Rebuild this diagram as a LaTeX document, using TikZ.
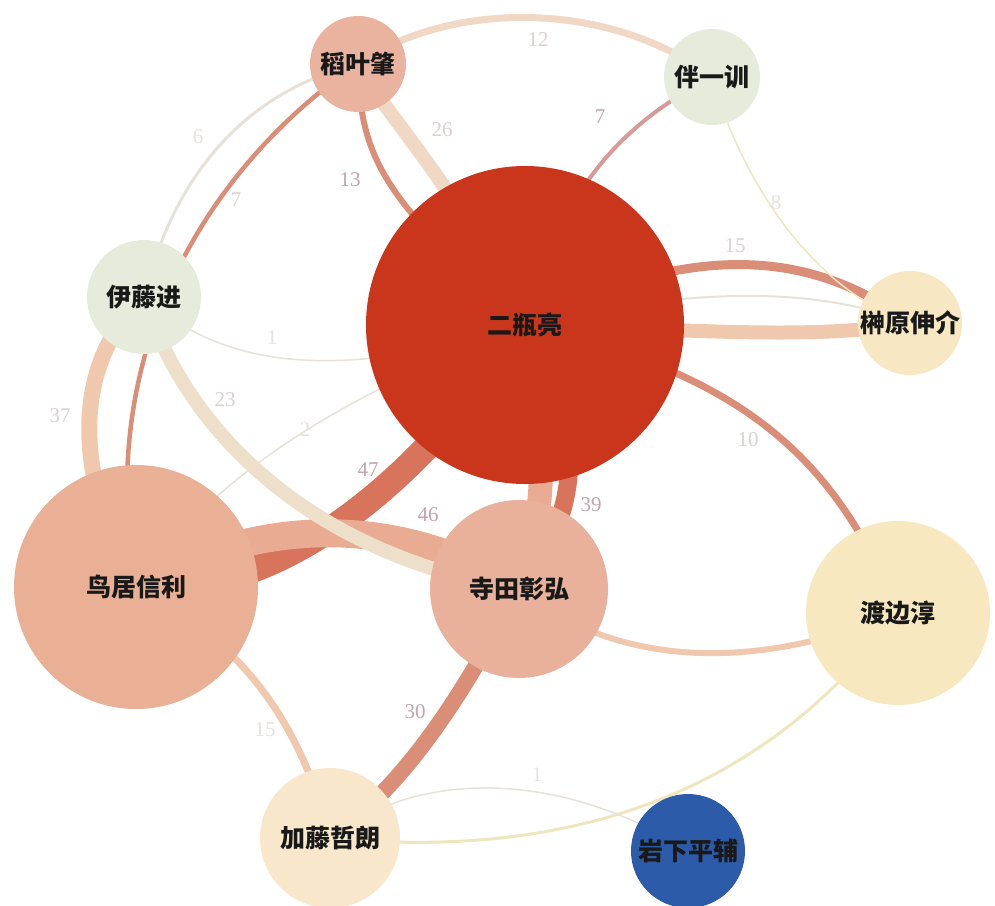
\documentclass[tikz,border=0pt]{standalone}
\usepackage{fontspec}
\setmainfont{Liberation Serif}
\newfontfamily\cjk{Noto Sans CJK SC}
\usetikzlibrary{backgrounds}
\definecolor{cIna}{HTML}{E9B3A0}
\definecolor{cBan}{HTML}{E6EBDC}
\definecolor{cIto}{HTML}{E6EBDB}
\definecolor{cNi}{HTML}{C9361B}
\definecolor{cSaka}{HTML}{F7E7C2}
\definecolor{cTori}{HTML}{E9B095}
\definecolor{cTera}{HTML}{E9B19C}
\definecolor{cWata}{HTML}{F7E8C0}
\definecolor{cKato}{HTML}{F8E7CB}
\definecolor{cIwa}{HTML}{2C5CA9}
\definecolor{eDark}{HTML}{D8735C}
\definecolor{eSalmon}{HTML}{DA8E78}
\definecolor{ePeach}{HTML}{E9AB92}
\definecolor{eLight}{HTML}{EFC8AE}
\definecolor{ePale}{HTML}{F0D8C4}
\definecolor{eBeige}{HTML}{EEDFCA}
\definecolor{eRose}{HTML}{D89A98}
\definecolor{eThin}{HTML}{E6E2DA}
\definecolor{eYellow}{HTML}{EEE7BE}
\definecolor{nMid}{HTML}{C4A3AD}
\definecolor{nPale}{HTML}{D9D2D0}
\definecolor{nFaint}{HTML}{E6E2E0}
\tikzset{
  person/.style={circle, inner sep=0pt, minimum size=#1,
    font=\cjk\bfseries\fontsize{25}{30}\selectfont, text=black!90},
  link/.style={line cap=butt},
  num/.style={font=\fontsize{21}{24}\selectfont, inner sep=0pt},
}
\begin{document}
\begin{tikzpicture}[x=1pt,y=-1pt]
\useasboundingbox (0,0) rectangle (995,905);
% nodes
\node[person=96pt, fill=cIna] (ina) at (358,64) {稻叶肇};
\node[person=96pt, fill=cBan] (ban) at (712,77) {伴一训};
\node[person=114pt, fill=cIto] (ito) at (144,297) {伊藤进};
\node[person=318pt, fill=cNi] (ni) at (525,325) {二瓶亮};
\node[person=104pt, fill=cSaka] (saka) at (910,323) {榊原伸介};
\node[person=244pt, fill=cTori] (tori) at (136,587) {鸟居信利};
\node[person=178pt, fill=cTera] (tera) at (519,589) {寺田彰弘};
\node[person=184pt, fill=cWata] (wata) at (898,613) {渡边淳};
\node[person=140pt, fill=cKato] (kato) at (330,838) {加藤哲朗};
\node[person=114pt, fill=cIwa] (iwa) at (688,851) {岩下平辅};
% connectors
\begin{scope}[on background layer]
\fill[white] (0,0) rectangle (995,905);
\draw[link, ePale, line width=7pt] (ina.center) .. controls (450,0) and (610,0) .. (ban.center);
\draw[link, eRose, line width=4pt] (ban.center) .. controls (620,125) and (560,190) .. (ni.center);
\draw[link, ePale, line width=14pt] (ina.center) .. controls (385,115) and (450,175) .. (ni.center);
\draw[link, eSalmon, line width=6pt] (ina.center) .. controls (360,160) and (385,200) .. (ni.center);
\draw[link, eThin, line width=3pt] (ina.center) .. controls (250,90) and (175,170) .. (ito.center);
\draw[link, eSalmon, line width=4.5pt] (ina.center) .. controls (230,150) and (90,330) .. (tori.center);
\draw[link, eLight, line width=16pt] (ito.center) .. controls (75,360) and (70,470) .. (tori.center);
\draw[link, eThin, line width=1.5pt] (ito.center) .. controls (220,365) and (330,385) .. (ni.center);
\draw[link, eThin, line width=1.5pt] (tori.center) .. controls (210,480) and (330,400) .. (ni.center);
\draw[link, eDark, line width=26pt] (tori.center) .. controls (280,600) and (420,480) .. (ni.center);
\draw[link, ePeach, line width=28pt] (tori.center) .. controls (260,515) and (400,515) .. (tera.center);
\draw[link, eBeige, line width=14pt] (ito.center) .. controls (185,430) and (310,555) .. (tera.center);
\draw[link, ePeach, line width=24pt] (ni.center) .. controls (545,420) and (550,510) .. (tera.center);
\draw[link, eDark, line width=18pt] (ni.center) .. controls (585,420) and (585,510) .. (tera.center);
\draw[link, eSalmon, line width=9pt] (ni.center) .. controls (700,235) and (820,255) .. (saka.center);
\draw[link, eThin, line width=2pt] (ni.center) .. controls (700,285) and (820,288) .. (saka.center);
\draw[link, eLight, line width=14pt] (ni.center) .. controls (700,330) and (820,340) .. (saka.center);
\draw[link, eYellow, line width=1.5pt] (ban.center) .. controls (735,160) and (800,285) .. (saka.center);
\draw[link, eSalmon, line width=7pt] (ni.center) .. controls (720,370) and (830,440) .. (wata.center);
\draw[link, eLight, line width=6pt] (tera.center) .. controls (620,670) and (760,670) .. (wata.center);
\draw[link, eYellow, line width=3pt] (wata.center) .. controls (760,800) and (560,860) .. (kato.center);
\draw[link, eThin, line width=1.5pt] (kato.center) .. controls (430,760) and (580,780) .. (iwa.center);
\draw[link, eLight, line width=7pt] (tori.center) .. controls (240,640) and (300,720) .. (kato.center);
\draw[link, eSalmon, line width=16pt] (tera.center) .. controls (480,660) and (420,775) .. (kato.center);
\end{scope}
% connector labels
\node[num, text=nPale] (l12) at (538,40) {12};
\node[num, text=nMid] (l7a) at (600,117) {7};
\node[num, text=nPale] (l26) at (442,130) {26};
\node[num, text=nMid] (l13) at (350,180) {13};
\node[num, text=nFaint] (l6) at (198,137) {6};
\node[num, text=nPale] (l7b) at (236,200) {7};
\node[num, text=nPale] (l37) at (60,416) {37};
\node[num, text=nPale] (l23) at (225,400) {23};
\node[num, text=nFaint] (l1a) at (272,338) {1};
\node[num, text=nFaint] (l2) at (305,430) {2};
\node[num, text=nMid] (l47) at (368,470) {47};
\node[num, text=nMid] (l46) at (428,515) {46};
\node[num, text=nMid] (l39) at (591,505) {39};
\node[num, text=nPale] (l15a) at (735,246) {15};
\node[num, text=nFaint] (l8) at (776,203) {8};
\node[num, text=nPale] (l10) at (748,440) {10};
\node[num, text=nMid] (l30) at (415,712) {30};
\node[num, text=nFaint] (l15b) at (265,730) {15};
\node[num, text=nFaint] (l1b) at (537,775) {1};
\end{tikzpicture}
\end{document}
